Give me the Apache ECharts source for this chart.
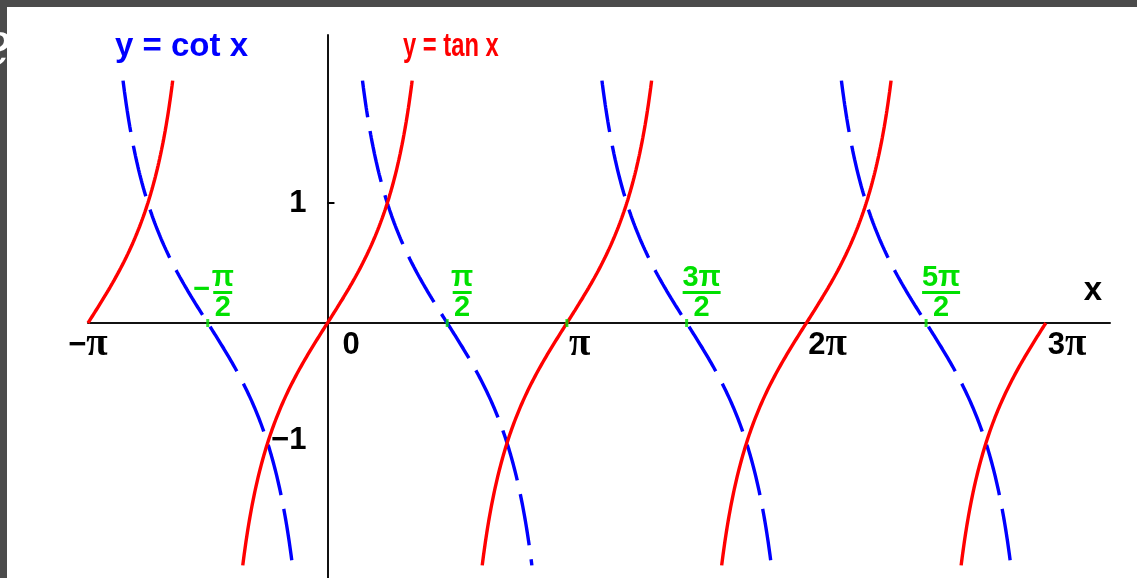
<!DOCTYPE html>
<html>
<head>
<meta charset="utf-8">
<script src="https://cdn.jsdelivr.net/npm/echarts@6/dist/echarts.min.js"></script>
<style>
  html, body { margin: 0; padding: 0; background: #fff; }
  #chart { width: 1137px; height: 578px; }
</style>
</head>
<body>
<div id="chart"></div>
<script>
const PI = Math.PI;

// x ticks, in multiples of π, and their labels ({p|…} marks the π glyph)
const xTickMultiples = [-1, 0, 1, 2, 3];
const xTickLabels = ['−{p|π}', '0', '{p|π}', '2{p|π}', '3{p|π}'];

// y tick labels; only y = 1 carries a tick mark
const yTickValues = [1, -1];
const yTickLabels = ['1', '−1'];
const yTickMarks = [1];

// zeros of cot x (multiples of π), written as fractions
const cotZeroMultiples = [-0.5, 0.5, 1.5, 2.5];
const cotZeroSigns = ['−', '', '', ''];
const cotZeroNumerators = ['π', 'π', '3π', '5π'];
const cotZeroDenominators = ['2', '2', '2', '2'];

// zeros of tan x that carry a green mark (multiples of π)
const tanMarkedZeroMultiples = [1];

// branches: tan x is centred on kπ, cot x runs over (kπ, (k+1)π)
const tanBranchCentres = [-1, 0, 1, 2, 3];
const cotBranchStarts = [-1, 0, 1, 2];
const curveDomain = [-1, 3];      // plotted x-domain, multiples of π
const curveLimit = 2.02;          // curves are cut where |y| exceeds this

// axis extents
const xRange = [-1, 3.268];       // multiples of π
const yRange = [-2.125, 2.4];

const RED = '#ff0000';
const BLUE = '#0000ff';
const GREEN = '#00e000';
const FONT = '"Liberation Sans", Arial, Helvetica, sans-serif';
const SERIF = '"Liberation Serif", "Times New Roman", serif';

function sampleCurve(fn, a, b) {
  const pts = [];
  const n = Math.max(2, Math.ceil((b - a) / 0.003));
  for (let i = 0; i <= n; i++) {
    const x = a + (b - a) * i / n;
    pts.push([x, fn(x)]);
  }
  return pts;
}

const lo = curveDomain[0] * PI;
const hi = curveDomain[1] * PI;
const tanReach = Math.atan(curveLimit);
const cotReach = Math.atan(1 / curveLimit);

const cotSeries = cotBranchStarts.map((k, i) => ({
  type: 'line',
  data: sampleCurve(x => 1 / Math.tan(x), k * PI + cotReach, (k + 1) * PI - cotReach),
  showSymbol: false,
  sampling: 'none',
  silent: true,
  z: 3,
  lineStyle: { color: BLUE, width: 3.4, type: [52, 14], dashOffset: i === 1 ? 15 : 0, cap: 'butt' }
}));

const tanSeries = tanBranchCentres.map(k => ({
  type: 'line',
  data: sampleCurve(Math.tan, Math.max(lo, k * PI - tanReach), Math.min(hi, k * PI + tanReach)),
  showSymbol: false,
  sampling: 'none',
  silent: true,
  z: 4,
  lineStyle: { color: RED, width: 3.4 }
}));

function txt(x, y, text, size, fill, align, rich) {
  const style = {
    text: text, fill: fill, font: 'bold ' + size + 'px ' + FONT,
    align: align, textAlign: align,
    verticalAlign: 'middle', textVerticalAlign: 'middle'
  };
  if (rich) style.rich = rich;
  return { type: 'text', x: x, y: y, style: style };
}

const zeroMarks = {
  type: 'scatter',
  data: cotZeroMultiples.concat(tanMarkedZeroMultiples).map(m => [m * PI, 0]),
  symbol: 'rect',
  symbolSize: [3, 8],
  itemStyle: { color: GREEN },
  silent: true,
  z: 5
};

const piRich = { p: { font: 'bold 39px ' + SERIF, fill: '#000', verticalAlign: 'middle' } };

const xLabelSeries = {
  type: 'custom',
  coordinateSystem: 'cartesian2d',
  clip: false, silent: true, z: 6,
  data: xTickMultiples.map((m, i) => [m * PI, 0, i]),
  renderItem(params, api) {
    const i = api.value(2);
    const p = api.coord([api.value(0), 0]);
    const m = xTickMultiples[i];
    let x = p[0], align = 'left';
    if (m < 0) align = 'center';
    else if (m === 0) x += 15;
    else x += 2;
    return txt(x, p[1] + 22, xTickLabels[i], 31, '#000', align, piRich);
  }
};

const yLabelSeries = {
  type: 'custom',
  coordinateSystem: 'cartesian2d',
  clip: false, silent: true, z: 6,
  data: yTickValues.map((v, i) => [0, v, i]),
  renderItem(params, api) {
    const i = api.value(2);
    const v = api.value(1);
    const p = api.coord([0, v]);
    const children = [txt(p[0] - 21, p[1] + (v > 0 ? 0 : -3), yTickLabels[i], 31, '#000', 'right')];
    if (yTickMarks.indexOf(v) >= 0) {
      children.push({ type: 'rect', shape: { x: p[0], y: p[1] - 1, width: 7, height: 2 }, style: { fill: '#000' } });
    }
    return { type: 'group', children: children };
  }
};

const fractionSeries = {
  type: 'custom',
  coordinateSystem: 'cartesian2d',
  clip: false, silent: true, z: 6,
  data: cotZeroMultiples.map((m, i) => [m * PI, 0, i]),
  renderItem(params, api) {
    const i = api.value(2);
    const p = api.coord([api.value(0), 0]);
    const cx = p[0] + 15;
    const num = cotZeroNumerators[i];
    const barW = 19 * num.length;
    const children = [
      txt(cx, p[1] - 45, num, 29, GREEN, 'center'),
      { type: 'rect', shape: { x: cx - barW / 2, y: p[1] - 32, width: barW, height: 3 }, style: { fill: GREEN } },
      txt(cx, p[1] - 15, cotZeroDenominators[i], 29, GREEN, 'center')
    ];
    if (cotZeroSigns[i]) {
      children.push(txt(cx - barW / 2 - 3, p[1] - 33, cotZeroSigns[i], 29, GREEN, 'right'));
    }
    return { type: 'group', children: children };
  }
};

const axisNameSeries = {
  type: 'custom',
  coordinateSystem: 'cartesian2d',
  clip: false, silent: true, z: 6,
  data: [[xRange[1] * PI, 0]],
  renderItem(params, api) {
    const p = api.coord([api.value(0), 0]);
    return txt(p[0] - 8, p[1] - 32, 'x', 33, '#000', 'right');
  }
};

const chart = echarts.init(document.getElementById('chart'), null, { renderer: 'canvas' });
chart.setOption({
  animation: false,
  backgroundColor: '#ffffff',
  grid: { left: 88, right: 27, top: 35, bottom: 0, containLabel: false },
  xAxis: {
    type: 'value',
    min: xRange[0] * PI,
    max: xRange[1] * PI,
    axisLine: { show: true, onZero: true, lineStyle: { color: '#111', width: 2 } },
    axisTick: { show: false },
    axisLabel: { show: false },
    splitLine: { show: false }
  },
  yAxis: {
    type: 'value',
    min: yRange[0],
    max: yRange[1],
    axisLine: { show: true, onZero: true, lineStyle: { color: '#111', width: 2 } },
    axisTick: { show: false },
    axisLabel: { show: false },
    splitLine: { show: false }
  },
  graphic: [
    { type: 'rect', left: 0, top: 0, shape: { width: 1137, height: 7 }, style: { fill: '#4b4b4b' }, z: 100 },
    { type: 'rect', left: 0, top: 0, shape: { width: 7, height: 578 }, style: { fill: '#4b4b4b' }, z: 100 },
    { type: 'text', x: -24, y: 18, z: 101, style: { text: 'e', fill: '#ffffff', font: 'italic 62px "DejaVu Serif", serif' } },
    { type: 'text', x: 115, y: 47, z: 10, style: { text: 'y = cot x', fill: BLUE, font: 'bold 33px ' + FONT, verticalAlign: 'middle', textVerticalAlign: 'middle' } },
    { type: 'text', x: 403, y: 47, scaleX: 0.72, z: 10, style: { text: 'y = tan x', fill: RED, font: 'bold 33px ' + FONT, verticalAlign: 'middle', textVerticalAlign: 'middle' } }
  ],
  series: cotSeries.concat(tanSeries, [zeroMarks, xLabelSeries, yLabelSeries, fractionSeries, axisNameSeries])
});
</script>
</body>
</html>
